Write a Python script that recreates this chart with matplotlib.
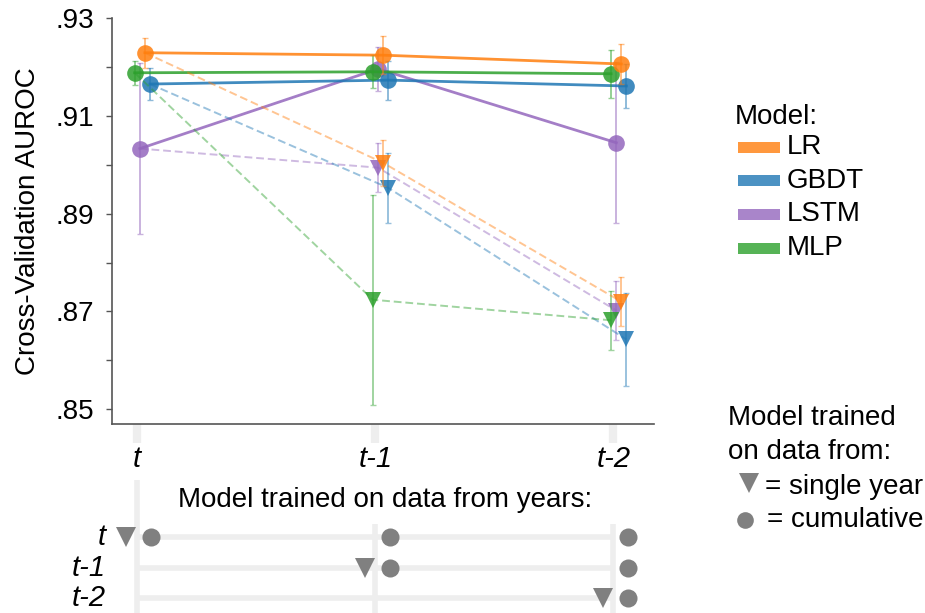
import matplotlib
matplotlib.use("Agg")
import matplotlib.pyplot as plt
import numpy as np
from matplotlib.lines import Line2D
from matplotlib.patches import Rectangle

plt.rcParams['font.family'] = ['Liberation Sans', 'DejaVu Sans']

years = ['t', 't-1', 't-2']
models = ['LR', 'GBDT', 'LSTM', 'MLP']

# cumulative training data (circles, solid lines)
cum_lr = [0.9229, 0.9224, 0.9206]
cum_gbdt = [0.9165, 0.9173, 0.9161]
cum_lstm = [0.9033, 0.9196, 0.9045]
cum_mlp = [0.9188, 0.9190, 0.9186]

cum_err_lr = [0.0031, 0.0039, 0.0040]
cum_err_gbdt = [0.0033, 0.0040, 0.0044]
cum_err_lstm = [0.0175, 0.0045, 0.0165]
cum_err_mlp = [0.0025, 0.0034, 0.0049]

# single year training data (triangles, dashed lines)
single_lr = [0.9229, 0.9004, 0.8720]
single_gbdt = [0.9165, 0.8953, 0.8643]
single_lstm = [0.9033, 0.8994, 0.8702]
single_mlp = [0.9188, 0.8724, 0.8682]

single_err_lr = [0.0031, 0.0047, 0.0050]
single_err_gbdt = [0.0033, 0.0072, 0.0095]
single_err_lstm = [0.0175, 0.0050, 0.0060]
single_err_mlp = [0.0025, 0.0215, 0.0060]

cum = {'LR': cum_lr, 'GBDT': cum_gbdt, 'LSTM': cum_lstm, 'MLP': cum_mlp}
cum_err = {'LR': cum_err_lr, 'GBDT': cum_err_gbdt, 'LSTM': cum_err_lstm, 'MLP': cum_err_mlp}
single = {'LR': single_lr, 'GBDT': single_gbdt, 'LSTM': single_lstm, 'MLP': single_mlp}
single_err = {'LR': single_err_lr, 'GBDT': single_err_gbdt, 'LSTM': single_err_lstm, 'MLP': single_err_mlp}

colors = {'LR': '#ff7f0e', 'GBDT': '#1f77b4', 'LSTM': '#9467bd', 'MLP': '#2ca02c'}
dodge = {'MLP': -0.01, 'LSTM': 0.012, 'LR': 0.033, 'GBDT': 0.054}
zorders = {'LSTM': 3, 'GBDT': 4, 'MLP': 5, 'LR': 6}

FS = 20
W, H = 925, 613
fig = plt.figure(figsize=(W / 100, H / 100), dpi=100)
ax = fig.add_axes([112 / W, 1 - 424 / H, (654 - 112) / W, (424 - 18) / H])

x = np.arange(len(years))
for m in models:
    c = colors[m]
    xs = x + dodge[m]
    z = zorders[m]
    # single year: dashed
    ax.plot(xs, single[m], ls=(0, (4, 2)), lw=1.4, color=c, alpha=0.45, zorder=z)
    ax.errorbar(xs[1:], single[m][1:], yerr=single_err[m][1:], fmt='none',
                ecolor=c, alpha=0.45, elinewidth=1.4, capsize=2.5, zorder=z)
    ax.plot(xs[1:], single[m][1:], 'v', ms=12, color=c, alpha=0.85,
            markeredgewidth=0, zorder=z + 0.5)
    # cumulative: solid
    ax.plot(xs, cum[m], '-', lw=2, color=c, alpha=0.85, zorder=z)
    ax.errorbar(xs, cum[m], yerr=cum_err[m], fmt='none',
                ecolor=c, alpha=0.5, elinewidth=1.4, capsize=2.5, zorder=z)
    ax.plot(xs, cum[m], 'o', ms=12, color=c, alpha=0.85,
            markeredgewidth=0, zorder=z + 0.5)

ax.set_xlim(-0.105, 2.17)
ax.set_ylim(0.847, 0.93)
ax.set_yticks([0.85, 0.87, 0.89, 0.91, 0.93])
ax.set_yticklabels(['.85', '.87', '.89', '.91', '.93'], fontsize=FS)
ax.set_yticks([0.86, 0.88, 0.90, 0.92], minor=True)
ax.tick_params(axis='y', which='both', length=4, width=1, color='#555555', pad=9)
ax.set_xticks(x)
ax.set_xticklabels(years, fontsize=FS + 1, style='italic')
ax.tick_params(axis='x', length=14, width=6, color='#eeeeee', pad=1)
ax.set_ylabel('Cross-Validation AUROC', fontsize=FS, labelpad=10)
for s in ['top', 'right']:
    ax.spines[s].set_visible(False)
for s in ['left', 'bottom']:
    ax.spines[s].set_color('#555555')
    ax.spines[s].set_linewidth(1.2)

# model legend
fig.text(735 / W, 1 - 117 / H, 'Model:', fontsize=FS, va='center', ha='left')
for i, m in enumerate(models):
    yc = 147 + 33.7 * i
    fig.patches.append(Rectangle((738 / W, 1 - (yc + 5.5) / H), 42 / W, 11 / H,
                                 transform=fig.transFigure, facecolor=colors[m],
                                 alpha=0.8, edgecolor='none'))
    fig.text(787 / W, 1 - yc / H, m, fontsize=FS, va='center', ha='left')

# marker legend
fig.text(728 / W, 1 - 418 / H, 'Model trained', fontsize=FS, va='center', ha='left')
fig.text(728 / W, 1 - 452 / H, 'on data from:', fontsize=FS, va='center', ha='left')
fig.lines.append(Line2D([749 / W], [1 - 483 / H], marker='v', ms=15, color='#808080',
                        markeredgewidth=0, transform=fig.transFigure))
fig.lines.append(Line2D([745 / W], [1 - 520 / H], marker='o', ms=12, color='#808080',
                        markeredgewidth=0, transform=fig.transFigure))
fig.text(765 / W, 1 - 487 / H, '= single year', fontsize=FS, va='center', ha='left')
fig.text(767 / W, 1 - 520 / H, '= cumulative', fontsize=FS, va='center', ha='left')

# bottom panel: which years each model was trained on
ax2 = fig.add_axes([112 / W, 0, (654 - 112) / W, (613 - 480) / H])
ax2.set_xlim(ax.get_xlim())
ax2.set_ylim(2.5, -1.9)
ax2.axis('off')
grid = '#eeeeee'
ax2.plot([0, 0], [-1.9, 2.5], color=grid, lw=4, zorder=0, solid_capstyle='butt')
for i in x[1:]:
    ax2.plot([i, i], [-0.45, 2.5], color=grid, lw=4, zorder=0, solid_capstyle='butt')
for r, lab in enumerate(years):
    ax2.plot([0, 2], [r, r], color=grid, lw=4, zorder=0, solid_capstyle='butt')
    ax2.text(-0.13, r, lab, fontsize=FS + 1, style='italic', ha='right', va='center')
    ax2.plot([r - 0.045], [r], 'v', ms=15, color='#808080', markeredgewidth=0, zorder=2)
    cols = x[r:]
    ax2.plot(cols + 0.06, [r] * len(cols), 'o', ms=13, color='#808080',
             markeredgewidth=0, zorder=2)
ax2.text(1.04, -1.25, 'Model trained on data from years:', fontsize=FS,
         ha='center', va='center',
         bbox=dict(facecolor='white', edgecolor='none', pad=2))

fig.savefig('out.png', dpi=100)
